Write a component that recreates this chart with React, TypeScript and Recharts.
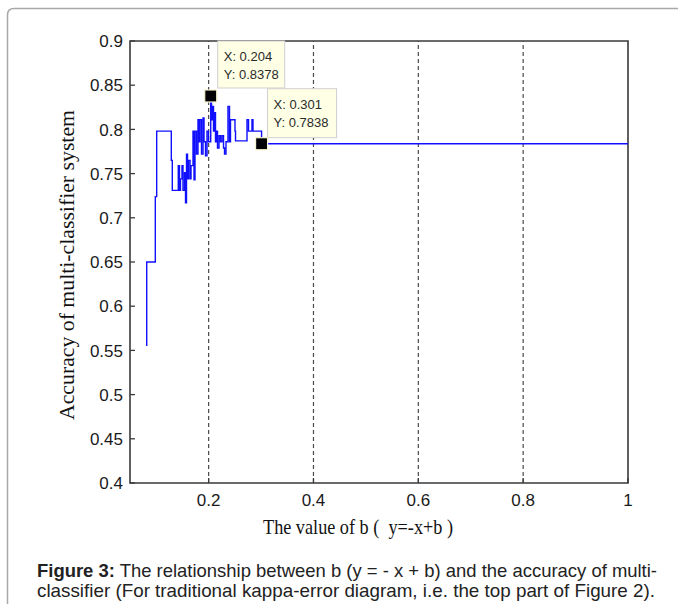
import { LineChart, Line, XAxis, YAxis, ReferenceLine, ReferenceArea, ReferenceDot, Label } from "recharts";

// b value of the line (x) and accuracy (y), step-wise
const bValues = [
  0.0819, 0.0819, 0.0983, 0.1009, 0.1288, 0.1307, 0.1421, 0.1444, 0.1463, 0.1492,
  0.1511, 0.154, 0.1559, 0.1578, 0.1597, 0.1616, 0.1645, 0.1664, 0.1702, 0.1721,
  0.174, 0.1769, 0.1797, 0.1816, 0.1835, 0.1864, 0.1893, 0.1912, 0.194, 0.1969,
  0.1998, 0.204, 0.2055, 0.2074, 0.2093, 0.2112, 0.2131, 0.215, 0.2169, 0.2198,
  0.2226, 0.2255, 0.2284, 0.2303, 0.2331, 0.2369, 0.2398, 0.2417, 0.2503, 0.2513,
  0.2732, 0.2761, 0.2827, 0.2846, 0.301, 1.0,
];
const accValues = [
  0.555, 0.65, 0.724, 0.798, 0.765, 0.731, 0.759, 0.731, 0.744, 0.759,
  0.731, 0.751, 0.717, 0.772, 0.744, 0.765, 0.744, 0.759, 0.798, 0.743,
  0.798, 0.772, 0.811, 0.786, 0.811, 0.772, 0.813, 0.786, 0.77, 0.798,
  0.786, 0.8378, 0.811, 0.826, 0.798, 0.819, 0.786, 0.798, 0.779, 0.793,
  0.786, 0.793, 0.779, 0.772, 0.786, 0.826, 0.786, 0.811, 0.798, 0.787,
  0.811, 0.798, 0.811, 0.798, 0.7838, 0.7838,
];

const xTicks = [0.2, 0.4, 0.6, 0.8, 1];
const gridX = [0.2, 0.4, 0.6, 0.8];
const yTicks = [0.4, 0.45, 0.5, 0.55, 0.6, 0.65, 0.7, 0.75, 0.8, 0.85, 0.9];

// data tips
const tipB = [0.204, 0.301];
const tipAcc = [0.8378, 0.7838];
const tipText = [["X: 0.204", "Y: 0.8378"], ["X: 0.301", "Y: 0.7838"]];
// box placement relative to the marker
const tipBox = [
  { dx: 7, dy: -55, w: 67, h: 47 },
  { dx: 6, dy: -55, w: 69, h: 49 },
];

const data = bValues.map((b, i) => ({ b, acc: accValues[i] }));

const AXIS = "#3a3a3a";
const TICK_FONT = "'Liberation Sans', Arial, sans-serif";
const SERIF = "'Liberation Serif', 'Times New Roman', serif";

const BottomTick = (props: any) => {
  const { x, y, payload } = props;
  return (
    <g>
      <line x1={x} y1={y} x2={x} y2={y - 5} stroke={AXIS} strokeWidth={1.3} />
      <text x={x} y={y + 23} textAnchor="middle" fontSize={17} fontFamily={TICK_FONT} fill="#1a1a1a">
        {payload.value}
      </text>
    </g>
  );
};

const LeftTick = (props: any) => {
  const { x, y, payload } = props;
  return (
    <g>
      <line x1={x} y1={y} x2={x + 5} y2={y} stroke={AXIS} strokeWidth={1.3} />
      <text x={x - 7} y={y} dy="0.36em" textAnchor="end" fontSize={17} fontFamily={TICK_FONT} fill="#1a1a1a">
        {payload.value}
      </text>
    </g>
  );
};

const RightTick = (props: any) => {
  const { x, y } = props;
  return <line x1={x} y1={y} x2={x - 5} y2={y} stroke={AXIS} strokeWidth={1.3} />;
};

const TopTick = (props: any) => {
  const { x, y } = props;
  return <line x1={x} y1={y} x2={x} y2={y + 5} stroke={AXIS} strokeWidth={1.3} />;
};

const TipMark = (props: any) => {
  const { cx, cy, idx } = props;
  const box = tipBox[idx];
  const lines = tipText[idx];
  return (
    <g>
      <rect
        x={cx + box.dx}
        y={cy + box.dy}
        width={box.w}
        height={box.h}
        fill="#ffffe6"
        stroke="#cfcfcf"
        strokeWidth={1}
      />
      {lines.map((t, i) => (
        <text
          key={t}
          x={cx + box.dx + 6}
          y={cy + box.dy + 20 + i * 18}
          fontSize={13}
          fontFamily={TICK_FONT}
          fill="#2a2a2a"
        >
          {t}
        </text>
      ))}
      <rect x={cx - 6} y={cy - 6} width={12} height={12} fill="#000" stroke="#f5f3d0" strokeWidth={1.2} />
    </g>
  );
};

export default function App() {
  return (
    <div style={{ position: "absolute", left: 0, top: 0, width: 678, height: 604, background: "#fff" }}>
      <svg width={678} height={604} style={{ position: "absolute", left: 0, top: 0 }}>
        <path d="M7.5 604 V15 Q7.5 8.5 14 8.5 H678" fill="none" stroke="#a8a8a8" strokeWidth={1.5} />
        <text x={37} y={577} textLength={620} lengthAdjust="spacingAndGlyphs" fontSize={19} fontFamily={TICK_FONT} fill="#222">
          <tspan fontWeight="bold">Figure 3:</tspan>
          <tspan> The relationship between b (y = - x + b) and the accuracy of multi-</tspan>
        </text>
        <text x={37} y={597} textLength={618} lengthAdjust="spacingAndGlyphs" fontSize={19} fontFamily={TICK_FONT} fill="#222">
          classifier (For traditional kappa-error diagram, i.e. the top part of Figure 2).
        </text>
      </svg>
      <div style={{ position: "absolute", left: 0, top: 0 }}>
        <LineChart width={678} height={545} data={data} margin={{ top: 41, right: 50, left: 70, bottom: 0 }}>
          <XAxis
            xAxisId="b"
            dataKey="b"
            type="number"
            domain={[0.05, 1]}
            ticks={xTicks}
            allowDataOverflow
            height={62}
            axisLine={false}
            tickLine={false}
            tickSize={0}
            tickMargin={0}
            tick={<BottomTick />}
            interval={0}
          >
            <Label
              content={(p: any) => {
                const vb = p.viewBox;
                return (
                  <text
                    x={vb.x + 133}
                    y={vb.y + 51}
                    textLength={190}
                    lengthAdjust="spacingAndGlyphs"
                    fontSize={21}
                    fontFamily={SERIF}
                    fill="#111"
                    style={{ whiteSpace: "pre" }}
                  >
                    {"The value of b (\u00a0\u00a0y=-x+b )"}
                  </text>
                );
              }}
            />
          </XAxis>
          <XAxis
            xAxisId="top"
            orientation="top"
            type="number"
            dataKey="b"
            domain={[0.05, 1]}
            ticks={xTicks}
            allowDataOverflow
            height={0}
            axisLine={false}
            tickLine={false}
            tickSize={0}
            tickMargin={0}
            tick={<TopTick />}
            interval={0}
          />
          <YAxis
            yAxisId="acc"
            type="number"
            domain={[0.4, 0.9]}
            ticks={yTicks}
            allowDataOverflow
            width={60}
            axisLine={false}
            tickLine={false}
            tickSize={0}
            tickMargin={0}
            tick={<LeftTick />}
            interval={0}
          >
            <Label
              content={(p: any) => {
                const vb = p.viewBox;
                const cx = vb.x - 3;
                const cy = vb.y + 224;
                return (
                  <text
                    x={cx - 155}
                    y={cy}
                    transform={`rotate(-90 ${cx} ${cy})`}
                    textLength={310}
                    lengthAdjust="spacingAndGlyphs"
                    dy="0.35em"
                    fontSize={21}
                    fontFamily={SERIF}
                    fill="#111"
                  >
                    Accuracy of multi-classifier system
                  </text>
                );
              }}
            />
          </YAxis>
          <YAxis
            yAxisId="right"
            orientation="right"
            type="number"
            domain={[0.4, 0.9]}
            ticks={yTicks}
            allowDataOverflow
            width={0}
            axisLine={false}
            tickLine={false}
            tickSize={0}
            tickMargin={0}
            tick={<RightTick />}
            interval={0}
          />
          {gridX.map((g) => (
            <ReferenceLine
              key={g}
              xAxisId="b"
              yAxisId="acc"
              x={g}
              stroke="#4a4a4a"
              strokeDasharray="4 3"
              strokeWidth={1.2}
            />
          ))}
          <ReferenceArea
            xAxisId="b"
            yAxisId="acc"
            x1={0.05}
            x2={1}
            y1={0.4}
            y2={0.9}
            fill="none"
            fillOpacity={0}
            stroke={AXIS}
            strokeWidth={1.6}
          />
          <Line
            xAxisId="b"
            yAxisId="acc"
            dataKey="acc"
            type="stepAfter"
            stroke="#1010ff"
            strokeWidth={1.4}
            dot={false}
            activeDot={false}
            isAnimationActive={false}
          />
          {tipB.map((b, i) => (
            <ReferenceDot
              key={b}
              xAxisId="b"
              yAxisId="acc"
              x={b}
              y={tipAcc[i]}
              r={6}
              shape={(p: any) => <TipMark {...p} idx={i} />}
            />
          ))}
        </LineChart>
      </div>
    </div>
  );
}
